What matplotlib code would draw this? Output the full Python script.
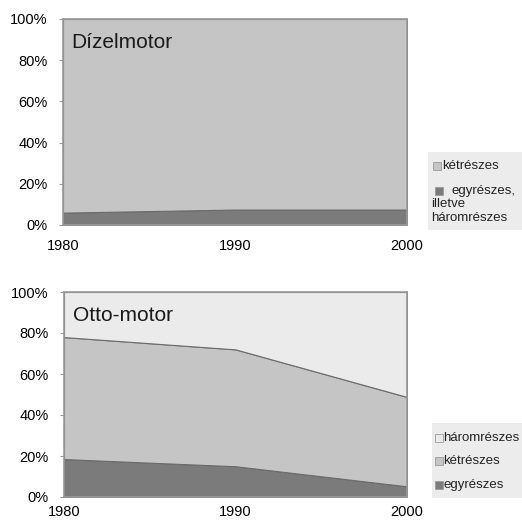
import matplotlib
matplotlib.use("Agg")
import matplotlib.pyplot as plt
from matplotlib.patches import Rectangle

plt.rcParams['font.family'] = ['Liberation Sans', 'DejaVu Sans']

years = [1980, 1990, 2000]

# Dízelmotor
diesel_egy = [6, 7.5, 7.5]
diesel_ket = [94, 92.5, 92.5]

# Otto-motor
otto_egy = [18.5, 15, 5.2]
otto_ket = [59.5, 57, 43.6]
otto_harom = [22, 28, 51.2]

ticks_y = [0, 20, 40, 60, 80, 100]

c_dark = '#7b7b7b'
c_mid = '#c5c5c5'
c_light = '#ebebeb'
edge = '#6a6a6a'

W, H = 522, 520
fig = plt.figure(figsize=(W / 100, H / 100), dpi=100)

def px_axes(l, t, r, b):
    return fig.add_axes([l / W, 1 - b / H, (r - l) / W, (b - t) / H])

def style(ax, title, xpad):
    ax.set_xlim(1980, 2000)
    ax.set_ylim(0, 100)
    ax.set_xticks(years)
    ax.set_yticks(ticks_y)
    ax.set_yticklabels([f'{v}%' for v in ticks_y])
    ax.tick_params(labelsize=10.5, length=3, color='#999999', pad=8)
    ax.tick_params(axis='x', length=0, pad=xpad)
    for s in ax.spines.values():
        s.set_color('#9a9a9a')
        s.set_linewidth(1.2)
    ax.text(0.025, 0.885, title, transform=ax.transAxes, fontsize=15,
            color='#1a1a1a', va='center')

ax1 = px_axes(63, 19, 407, 225)
ax1.stackplot(years, diesel_egy, diesel_ket, colors=[c_dark, c_mid],
              edgecolor=edge, linewidth=0.8)
style(ax1, 'Dízelmotor', 10)

ax2 = px_axes(64, 292, 407, 497)
ax2.stackplot(years, otto_egy, otto_ket, otto_harom,
              colors=[c_dark, c_mid, c_light], edgecolor=edge, linewidth=0.8)
style(ax2, 'Otto-motor', 6)

# legend boxes drawn in figure pixels
leg_font = dict(fontsize=9.5, color='#222222', va='center')

def box(l, t, r, b):
    fig.patches.append(Rectangle((l / W, 1 - b / H), (r - l) / W, (b - t) / H,
                                 transform=fig.transFigure, facecolor='#ececec',
                                 edgecolor='none', zorder=0))

def square(x, y, color):
    fig.patches.append(Rectangle((x / W, 1 - (y + 4) / H), 8 / W, 8 / H,
                                 transform=fig.transFigure, facecolor=color,
                                 edgecolor='#9a9a9a', linewidth=0.6, zorder=1))

def label(x, y, s):
    fig.text(x / W, 1 - y / H, s, **leg_font)

box(428, 152, 522, 230)
square(433, 166, c_mid)
label(442, 166, 'kétrészes')
square(435, 191, c_dark)
label(451, 191, 'egyrészes,')
label(431, 204, 'illetve')
label(431, 218, 'háromrészes')

box(432, 423, 522, 498)
square(435, 438, c_light)
label(443, 438, 'háromrészes')
square(435, 461, c_mid)
label(443, 461, 'kétrészes')
square(435, 485, c_dark)
label(443, 485, 'egyrészes')

plt.savefig('out.png', dpi=100)
